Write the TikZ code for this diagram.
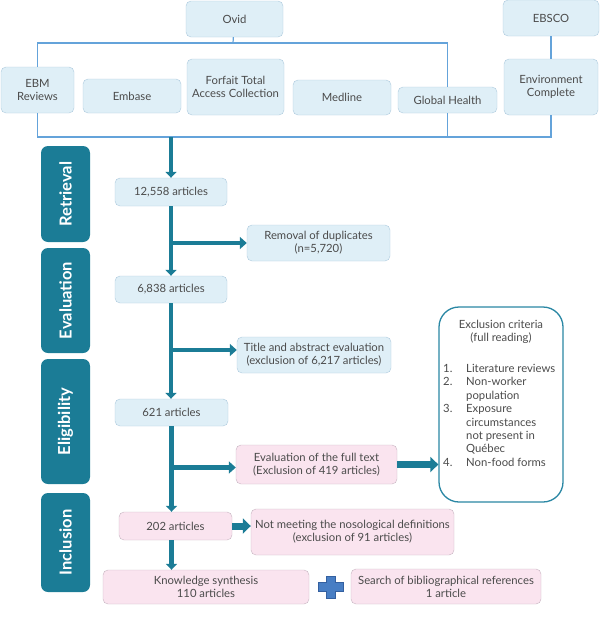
\documentclass[tikz,border=0pt]{standalone}
\usepackage{fontspec}
\setmainfont{Lato}
\usetikzlibrary{arrows.meta,positioning}
\definecolor{txtgray}{RGB}{75,75,75}
\definecolor{tealband}{RGB}{27,124,150}
\definecolor{blufill}{RGB}{223,239,247}
\definecolor{bluline}{RGB}{172,201,221}
\definecolor{pinkfill}{RGB}{250,228,239}
\definecolor{pinkline}{RGB}{198,180,192}
\definecolor{dbblue}{RGB}{100,163,218}
\definecolor{critline}{RGB}{42,135,164}
\definecolor{plusblue}{RGB}{72,126,196}
\definecolor{plusline}{RGB}{52,96,160}

\begin{document}
\begin{tikzpicture}[x=1pt,y=-1pt]
\useasboundingbox (0,0) rectangle (600,640);
\tikzstyle{every node}+=[inner sep=0pt,text=txtgray,font=\fontsize{11.3}{13}\selectfont]
\tikzstyle{blubox}=[draw=bluline,fill=blufill,rounded corners=5pt,align=center]
\tikzstyle{pinkbox}=[draw=pinkline,fill=pinkfill,rounded corners=5pt,align=center]
\tikzstyle{band}=[fill=tealband,rounded corners=7pt,rotate=90,text=white,font=\fontsize{16.5}{19}\selectfont\bfseries]
\tikzstyle{dbline}=[draw=dbblue,line width=1.2pt]
\tikzstyle{trunk}=[draw=tealband,line width=4.5pt,-{Triangle[width=11pt,length=6pt]}]
\tikzstyle{branch}=[draw=tealband,line width=4.5pt,-{Triangle[width=12pt,length=7pt]}]
\tikzstyle{fatarrow}=[draw=tealband,line width=7pt,-{Triangle[width=15pt,length=8pt]}]
\tikzstyle{critbox}=[draw=critline,line width=1.3pt,fill=white,rounded corners=20pt]
\tikzstyle{plussign}=[draw=plusline,fill=plusblue,line width=0.8pt]
% databases
\node[blubox,minimum width=97pt,minimum height=36pt] (ovid) at (234.5,19) {Ovid};
\node[blubox,minimum width=96pt,minimum height=36pt] (ebsco) at (551,18) {EBSCO};
\node[blubox,minimum width=73pt,minimum height=46pt] (ebm) at (37.5,90) {EBM\\Reviews};
\node[blubox,minimum width=98pt,minimum height=34pt] (embase) at (132,96) {Embase};
\node[blubox,minimum width=97pt,minimum height=56pt] (forfait) at (235.5,87) {Forfait Total\\Access Collection};
\node[blubox,minimum width=98pt,minimum height=35pt] (medline) at (342,97.5) {Medline};
\node[blubox,minimum width=99pt,minimum height=26pt] (global) at (447.5,100) {Global Health};
\node[blubox,minimum width=94pt,minimum height=56pt] (environ) at (551,87) {Environment\\Complete};
\coordinate (ovidbar) at (233,43);
\coordinate (dbbar) at (171,137);
\draw[dbline] (ovid) -- (ovidbar);
\draw[dbline] (ebm.north) |- (ovidbar) -| (global.north);
\draw[dbline] (ebsco) -- (environ);
\draw[dbline] (ebm.south) |- (dbbar) -| (environ.south);
\draw[dbline] (global.south) -- (global.south |- dbbar);
% phases
\node[band,minimum width=96pt,minimum height=49pt] (retr) at (65.5,194) {Retrieval};
\node[band,minimum width=105pt,minimum height=49pt] (evalb) at (65.5,300.5) {Evaluation};
\node[band,minimum width=125pt,minimum height=49pt] (elig) at (65.5,421.5) {Eligibility};
\node[band,minimum width=99pt,minimum height=49pt] (incl) at (65.5,542.5) {Inclusion};
% flow
\node[blubox,minimum width=112pt,minimum height=28pt] (n12558) at (171,192) {12,558 articles};
\node[blubox,minimum width=143pt,minimum height=36pt] (dupl) at (318.5,243) {Removal of duplicates\\(n=5,720)};
\node[blubox,minimum width=112pt,minimum height=27pt] (n6838) at (171,289.5) {6,838 articles};
\node[blubox,minimum width=154pt,minimum height=36pt] (titleabs) at (314,355) {Title and abstract evaluation\\(exclusion of 6,217 articles)};
\node[blubox,minimum width=113pt,minimum height=27pt] (n621) at (171.5,412.5) {621 articles};
\node[pinkbox,minimum width=161pt,minimum height=39pt] (fulltext) at (316.5,464.5) {Evaluation of the full text\\(Exclusion of 419 articles)};
\node[pinkbox,minimum width=113pt,minimum height=28pt] (n202) at (175.5,526) {202 articles};
\node[pinkbox,minimum width=203pt,minimum height=46pt] (nosol) at (352.5,532) {Not meeting the nosological definitions\\(exclusion of 91 articles)};
\node[pinkbox,minimum width=206pt,minimum height=34pt] (synth) at (206,587) {Knowledge synthesis\\110 articles};
\node[pinkbox,minimum width=190pt,minimum height=35pt] (biblio) at (446,586.5) {Search of bibliographical references\\1 article};
% exclusion criteria
\node[critbox,minimum width=124pt,minimum height=195pt] (crit) at (501,404.5) {};
\node[below=14pt of crit.north,align=center] (crithead) {Exclusion criteria\\(full reading)};
\node[anchor=north west,font=\fontsize{11.3}{13.4}\selectfont] (critlist) at (443,363) {\begin{tabular}{@{}p{23pt}@{}l@{}}
1. & Literature reviews\\
2. & Non-worker\\
 & population\\
3. & Exposure\\
 & circumstances\\
 & not present in\\
 & Québec\\
4. & Non-food forms
\end{tabular}};
% arrows
\draw[trunk] (dbbar) -- (n12558);
\draw[trunk] (n12558) -- (n6838);
\draw[branch] (n12558.south |- dupl.west) -- (dupl.west);
\draw[trunk] (n6838.south) -- (n6838.south |- n621.north);
\coordinate (tabin) at ([yshift=5pt]titleabs.west);
\draw[branch] (n6838.south |- tabin) -- (tabin);
\draw[trunk] (n621.south) -- (n621.south |- n202.north);
\coordinate (ftin) at ([yshift=-3pt]fulltext.west);
\draw[branch] (n621.south |- ftin) -- (ftin);
\draw[fatarrow] (fulltext) -- (fulltext -| crit.west);
\draw[fatarrow] (n202) -- (n202 -| nosol.west);
\draw[trunk] (n621.south |- n202.south) -- (n621.south |- synth.north);
\coordinate (plus) at (331,587);
\draw[plussign] (plus) ++(-4.5,-11) -- ++(9,0) -- ++(0,6.5) -- ++(8,0) -- ++(0,9) -- ++(-8,0) -- ++(0,6.5) -- ++(-9,0) -- ++(0,-6.5) -- ++(-8,0) -- ++(0,-9) -- ++(8,0) -- cycle;
\end{tikzpicture}
\end{document}
